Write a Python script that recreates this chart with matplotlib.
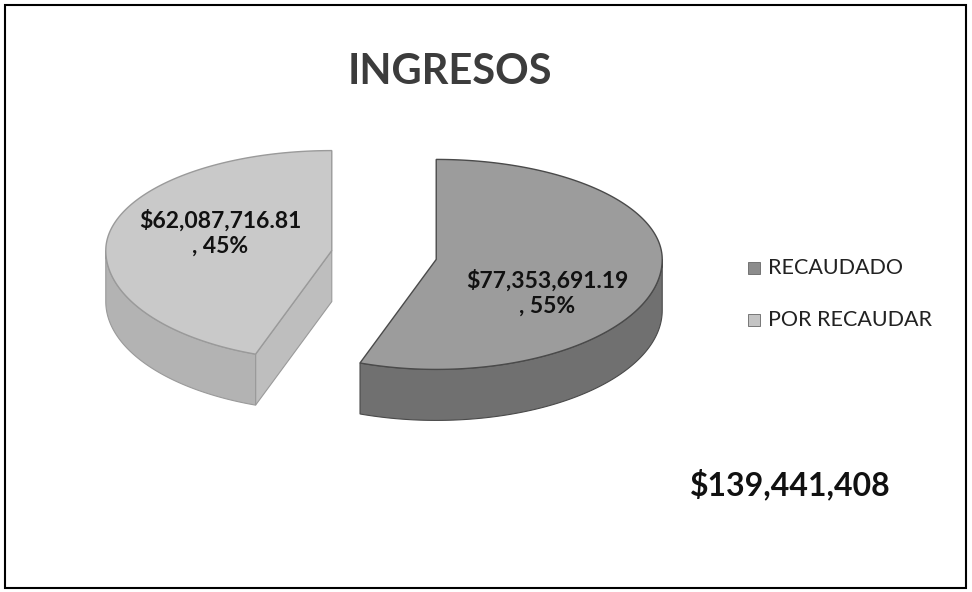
import numpy as np
import matplotlib
matplotlib.use("Agg")
import matplotlib.pyplot as plt
from matplotlib.patches import Polygon, Rectangle

# chart data
TITLE = "INGRESOS"
CATEGORIES = ["RECAUDADO", "POR RECAUDAR"]
VALUES = [77353691.19, 62087716.81]

# greys as they come out of the scan
TOP_COLORS = ["#9c9c9c", "#c9c9c9"]
SIDE_COLORS = ["#707070", "#b3b3b3"]
WALL_COLORS = ["#858585", "#bebebe"]
EDGE_COLORS = ["#4a4a4a", "#9a9a9a"]
LEGEND_COLORS = ["#8c8c8c", "#c4c4c4"]

# layout in pixels (axes spans the whole figure, y down)
W, H = 972, 592
CX, CY = 384, 255
RX = 226
RY_BACK, RY_FRONT = 100, 110
DEPTH = 51
EXPLODE = 53
LABEL_R = 0.5
LABEL_DY = [24, -8]

plt.rcParams['font.family'] = ['Lato', 'DejaVu Sans']


def project(cx, cy, theta):
    """theta in degrees, clockwise from 12 o'clock"""
    t = np.radians(theta)
    c = np.cos(t)
    ry = np.where(c > 0, RY_BACK, RY_FRONT)
    return cx + RX * np.sin(t), cy - ry * c


def draw_slice(ax, start, end, i):
    mid = np.radians((start + end) / 2)
    cx = CX + EXPLODE * np.sin(mid)
    cy = CY - EXPLODE * np.cos(mid) * (RY_FRONT / RX)

    # radial cut walls that face the viewer
    for a, normal in ((start, start - 90), (end, end + 90)):
        if np.cos(np.radians(normal)) < -1e-6:
            rx, ry = project(cx, cy, a)
            pts = [(cx, cy), (rx, ry), (rx, ry + DEPTH), (cx, cy + DEPTH)]
            ax.add_patch(Polygon(pts, closed=True, fc=WALL_COLORS[i],
                                 ec=EDGE_COLORS[i], lw=0.8, zorder=1))

    # outer wall, front half only
    lo, hi = max(start, 90), min(end, 270)
    if hi > lo:
        arc = np.linspace(lo, hi, 120)
        x, y = project(cx, cy, arc)
        pts = np.column_stack([np.r_[x, x[::-1]], np.r_[y, y[::-1] + DEPTH]])
        ax.add_patch(Polygon(pts, closed=True, fc=SIDE_COLORS[i],
                             ec=EDGE_COLORS[i], lw=0.8, zorder=1))

    # top face
    arc = np.linspace(start, end, 240)
    x, y = project(cx, cy, arc)
    pts = np.column_stack([np.r_[cx, x], np.r_[cy, y]])
    ax.add_patch(Polygon(pts, closed=True, fc=TOP_COLORS[i],
                         ec=EDGE_COLORS[i], lw=1.0, zorder=2))

    # data label
    lx = cx + LABEL_R * RX * np.sin(mid)
    ly = cy - LABEL_R * RY_FRONT * np.cos(mid) + LABEL_DY[i]
    return lx, ly


fig = plt.figure(figsize=(W / 100, H / 100), dpi=100)
ax = fig.add_axes([0, 0, 1, 1])
ax.set_xlim(0, W)
ax.set_ylim(H, 0)
ax.axis('off')

total = sum(VALUES)
angles = np.r_[0, np.cumsum(VALUES) / total * 360]

for i, v in enumerate(VALUES):
    lx, ly = draw_slice(ax, angles[i], angles[i + 1], i)
    ax.text(lx, ly, f"${v:,.2f}\n, {v / total:.0%}", ha='center', va='center',
            fontsize=16.5, fontweight='bold', color='#111111',
            linespacing=1.25, zorder=5)

ax.text(450, 72, TITLE, ha='center', va='center', fontsize=30,
        fontweight='bold', color='#3c3c3c')

# legend
for i, name in enumerate(CATEGORIES):
    y = 268 + i * 52
    ax.add_patch(Rectangle((748, y - 6), 12, 12, fc=LEGEND_COLORS[i],
                           ec='#666666', lw=0.6))
    ax.text(768, y, name, ha='left', va='center', fontsize=15.5, color='#222222')

ax.text(790, 484, f"${total:,.0f}", ha='center', va='center', fontsize=23,
        fontweight='bold', color='#111111')

# chart border
ax.add_patch(Rectangle((5, 5), 961, 583, fill=False, ec='black', lw=1.5))

fig.savefig("out.png", dpi=100)
